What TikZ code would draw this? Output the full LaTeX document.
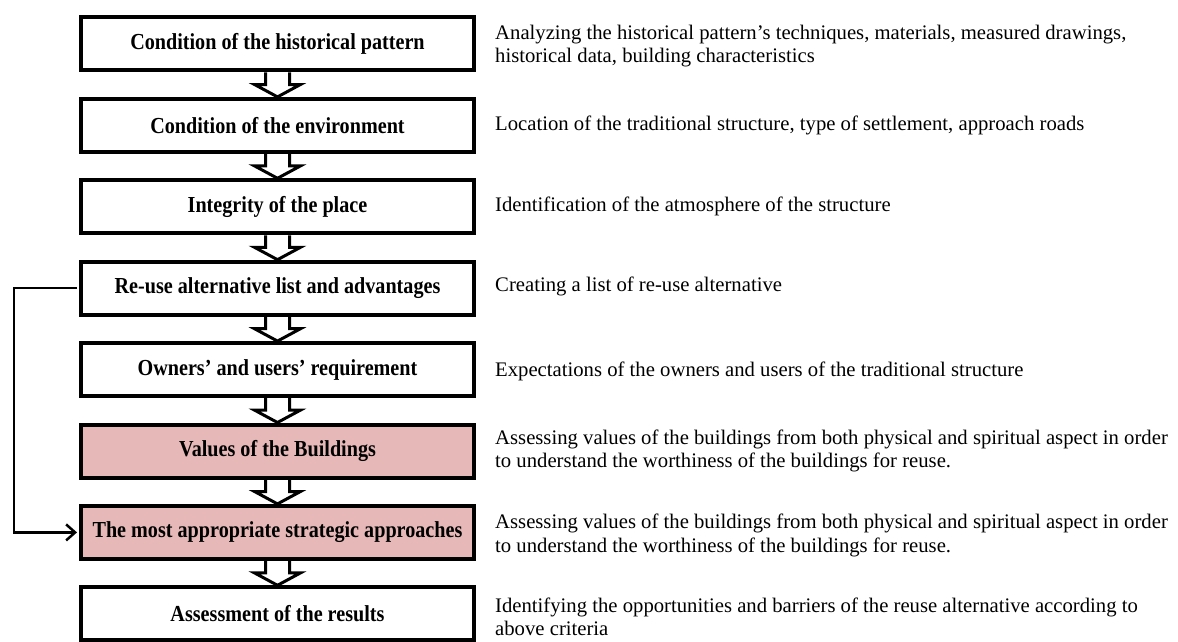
\documentclass[tikz,border=0pt]{standalone}
\usepackage{fontspec}
\setmainfont{Liberation Serif}
\newfontfamily\boxfont{Liberation Serif}[FakeStretch=0.88]
\newfontfamily\descfont{Liberation Serif}
\usetikzlibrary{calc,arrows.meta}
\definecolor{pinkfill}{HTML}{E6B9B8}
\pgfdeclarelayer{canvas}
\pgfdeclarelayer{background}
\pgfsetlayers{canvas,background,main}
\tikzset{
 stepbox/.style={draw=black, line width=4pt, fill=white, minimum width=393pt, minimum height=53pt, inner sep=0pt, font=\boxfont\fontsize{22.9}{26}\selectfont\bfseries},
 hibox/.style={stepbox, fill=pinkfill},
 desc/.style={anchor=west, align=left, inner sep=0pt, font=\descfont\fontsize{20.7}{23.5}\selectfont},
 blockarrow/.style={draw=black, fill=white, line width=3pt, line join=miter},
 feedback/.style={draw=black, line width=2.5pt, -{Straight Barb[length=9pt,width=16pt]}}
}
\begin{document}
\begin{tikzpicture}[x=1pt,y=-1pt]
\begin{pgfonlayer}{canvas}
\fill[white] (0,0) rectangle (1178,642);
\end{pgfonlayer}
\useasboundingbox (0,0) rectangle (1178,642);
\node[stepbox] (b1) at (277.5,44.0) {Condition of the historical pattern};
\node[stepbox] (b2) at (277.5,125.4) {Condition of the environment};
\node[stepbox] (b3) at (277.5,206.8) {Integrity of the place};
\node[stepbox] (b4) at (277.5,288.2) {Re-use alternative list and advantages};
\node[stepbox] (b5) at (277.5,369.6) {Owners’ and users’ requirement};
\node[hibox]   (b6) at (277.5,451.0) {Values of the Buildings};
\node[hibox]   (b7) at (277.5,532.4) {The most appropriate strategic approaches};
\node[stepbox] (b8) at (277.5,613.8) {Assessment of the results};

\node[desc] (d1) at (495,46.0) {Analyzing the historical pattern’s techniques, materials, measured drawings,\\historical data, building characteristics};
\node[desc] (d2) at (495,125.4) {Location of the traditional structure, type of settlement, approach roads};
\node[desc] (d3) at (495,206.8) {Identification of the atmosphere of the structure};
\node[desc] (d4) at (495,286.2) {Creating a list of re-use alternative};
\node[desc] (d5) at (495,371.6) {Expectations of the owners and users of the traditional structure};
\node[desc] (d6) at (495,451.0) {Assessing values of the buildings from both physical and spiritual aspect in order\\to understand the worthiness of the buildings for reuse.};
\node[desc] (d7) at (495,535.4) {Assessing values of the buildings from both physical and spiritual aspect in order\\to understand the worthiness of the buildings for reuse.};
\node[desc] (d8) at (495,617.0) {Identifying the opportunities and barriers of the reuse alternative according to\\above criteria};

\begin{pgfonlayer}{background}
\foreach \a/\b in {b1/b2,b2/b3,b3/b4,b4/b5,b5/b6,b6/b7,b7/b8}{
  \draw[blockarrow] ($(\a.south)+(-12,0)$) -- ($(\a.south)+(-12,12)$) -- ($(\a.south)+(-23,12)$) -- (\b.north) -- ($(\a.south)+(23,12)$) -- ($(\a.south)+(12,12)$) -- ($(\a.south)+(12,0)$);
}
\end{pgfonlayer}

\coordinate (fbtop) at (14,288.2);
\coordinate (fbbot) at (14,532.4);
\draw[feedback] ($(b4.west)+(-2,0)$) -- (fbtop) -- (fbbot) -- ($(b7.west)+(-2,0)$);
\end{tikzpicture}
\end{document}
